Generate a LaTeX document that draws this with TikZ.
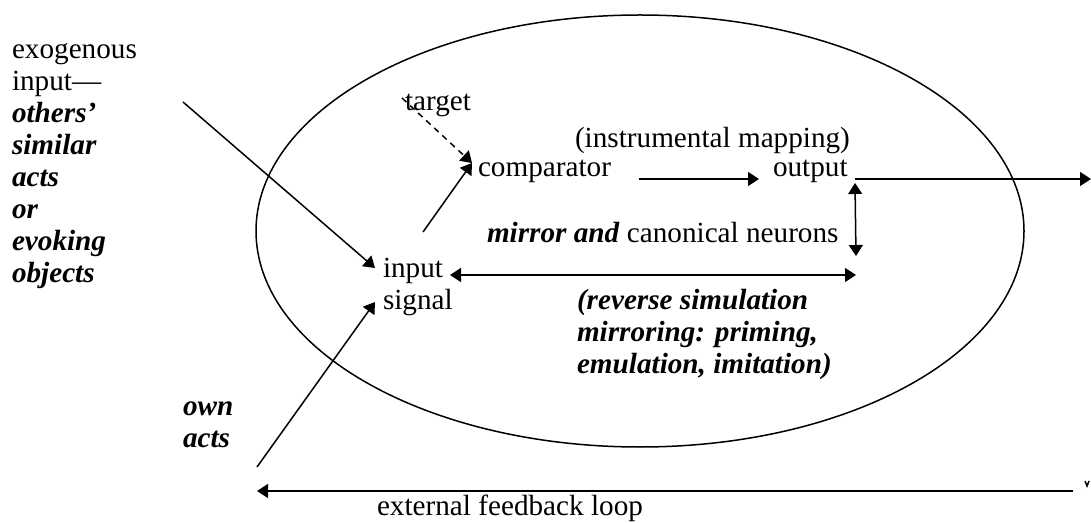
\documentclass[tikz,border=0pt]{standalone}
\usepackage{fontspec}
\setmainfont{Liberation Serif}
\usetikzlibrary{arrows.meta}
\tikzset{
  lbl/.style={inner sep=0pt, outer sep=0pt, anchor=base west, align=left,
    font=\fontsize{14.6}{16}\selectfont},
  tip/.tip={Triangle[length=5.5pt,width=7pt]},
  arr/.style={line width=0.75pt, -tip},
  dbl/.style={line width=0.75pt, tip-tip},
  plain/.style={line width=0.75pt},
}
\begin{document}
\begin{tikzpicture}[x=0.5pt,y=-0.5pt]
\useasboundingbox (0,0) rectangle (1091,523);

% the system boundary
\draw[plain] (640,231) ellipse [x radius=384, y radius=216];

% labels (multi-line labels are placed by the baseline of their last line)
\node[lbl] (exo) at (12,283) {exogenous\\input---\\\textbf{\textit{others’}}\\\textbf{\textit{similar}}\\\textbf{\textit{acts}}\\\textbf{\textit{or}}\\\textbf{\textit{evoking}}\\\textbf{\textit{objects}}};
\node[lbl] (target) at (405,111) {target};
\node[lbl] (comp) at (478,177) {comparator};
\node[lbl] (instr) at (575,148) {(instrumental mapping)};
\node[lbl] (out) at (773,177) {output};
\node[lbl] (mirror) at (487,243) {\textbf{\textit{mirror and}} canonical neurons};
\node[lbl] (insig) at (383,310) {input\\signal};
\node[lbl] (rev) at (577,373) {\textbf{\textit{(reverse simulation}}\\\textbf{\textit{mirroring: priming,}}\\\textbf{\textit{emulation, imitation)}}};
\node[lbl] (own) at (183,447) {\textbf{\textit{own}}\\\textbf{\textit{acts}}};
\node[lbl] (loop) at (377,515) {external feedback loop};

% connector end points
\coordinate (exoS) at (183,102);
\coordinate (inA) at (375,268);
\coordinate (inB) at (375,302);
\coordinate (ownS) at (257,467);
\coordinate (cmpIn) at (472,163);
\coordinate (insUp) at (423,232);
\coordinate (tgtS) at (402,98);
\coordinate (cmpR) at (639,179);
\coordinate (outL) at (759,179);
\coordinate (outR) at (855,179);
\coordinate (edgeR) at (1091,179);
\coordinate (vBot) at (856,256);
\coordinate (hL) at (450,275);
\coordinate (hR) at (856,275);
\coordinate (fbR) at (1073,491);
\coordinate (fbL) at (257,491);

% connectors
\draw[arr] (exoS) -- (inA);
\draw[arr] (ownS) -- (inB);
\draw[arr] (insUp) -- (cmpIn);
\draw[arr, dash pattern=on 3pt off 2.5pt] (tgtS) -- (cmpIn);
\draw[arr] (cmpR) -- (outL);
\draw[arr] (outR) -- (edgeR);
\draw[dbl] ([yshift=-2]outR) -- (vBot);
\draw[dbl] (hL) -- (hR);
\draw[arr] (fbR) -- (fbL);
\draw[line width=0.75pt] (1085,481) -- (1087,486) -- (1089,481);
\end{tikzpicture}
\end{document}
